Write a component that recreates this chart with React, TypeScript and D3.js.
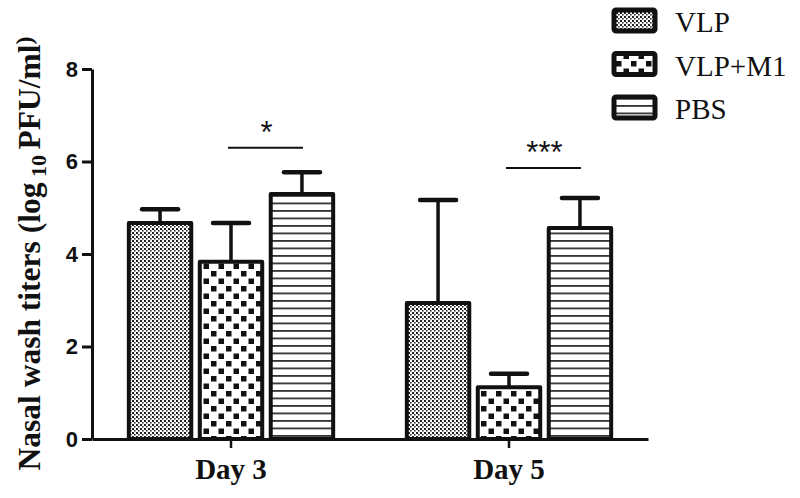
import React, { useRef, useEffect } from 'react'
import * as d3 from 'd3'

const categories = ['Day 3', 'Day 5']
const groups = ['VLP', 'VLP+M1', 'PBS']
const vlpMeans = [4.67, 2.94]
const vlpM1Means = [3.83, 1.12]
const pbsMeans = [5.3, 4.56]
const vlpErr = [0.3, 2.23]
const vlpM1Err = [0.84, 0.29]
const pbsErr = [0.47, 0.65]
const yTicks = [0, 2, 4, 6, 8]
const sigCategories = ['Day 3', 'Day 5']
const sigFrom = ['VLP+M1', 'VLP+M1']
const sigTo = ['PBS', 'PBS']
const sigLevels = [6.3, 5.86]
const sigLabels = ['*', '***']

const patternIds: Record<string, string> = { 'VLP': 'pat-vlp', 'VLP+M1': 'pat-vlpm1', 'PBS': 'pat-pbs' }

export default function App() {
  const svgRef = useRef<SVGSVGElement>(null)

  useEffect(() => {
    const width = 800
    const height = 498
    const margin = { top: 69, right: 152, bottom: 59, left: 92 }

    const svg = d3.select(svgRef.current)
    svg.selectAll('*').remove()
    svg.attr('viewBox', `0 0 ${width} ${height}`)

    // Patterns
    const defs = svg.append('defs')
    const p1 = defs.append('pattern').attr('id', 'pat-vlp')
      .attr('patternUnits', 'userSpaceOnUse').attr('width', 4).attr('height', 4)
    p1.append('rect').attr('width', 4).attr('height', 4).attr('fill', '#fff')
    p1.append('rect').attr('x', 0).attr('y', 0).attr('width', 2).attr('height', 2).attr('fill', '#222')
    p1.append('rect').attr('x', 2).attr('y', 2).attr('width', 1.6).attr('height', 1.6).attr('fill', '#333')

    const p2 = defs.append('pattern').attr('id', 'pat-vlpm1')
      .attr('patternUnits', 'userSpaceOnUse').attr('width', 15).attr('height', 15)
    p2.append('rect').attr('width', 15).attr('height', 15).attr('fill', '#fff')
    p2.append('rect').attr('x', 1).attr('y', 1).attr('width', 5.5).attr('height', 5.5).attr('fill', '#111')
    p2.append('rect').attr('x', 8.5).attr('y', 8.5).attr('width', 5.5).attr('height', 5.5).attr('fill', '#111')

    const p3 = defs.append('pattern').attr('id', 'pat-pbs')
      .attr('patternUnits', 'userSpaceOnUse').attr('width', 8).attr('height', 7.5)
    p3.append('rect').attr('width', 8).attr('height', 7.5).attr('fill', '#fff')
    p3.append('rect').attr('x', 0).attr('y', 0).attr('width', 8).attr('height', 1.8).attr('fill', '#333')

    const means: Record<string, number[]> = { 'VLP': vlpMeans, 'VLP+M1': vlpM1Means, 'PBS': pbsMeans }
    const errs: Record<string, number[]> = { 'VLP': vlpErr, 'VLP+M1': vlpM1Err, 'PBS': pbsErr }

    const x0 = d3.scaleBand<string>()
      .domain(categories)
      .range([margin.left, width - margin.right])
      .paddingInner(0.265)
      .paddingOuter(0.1325)

    const x1 = d3.scaleBand<string>()
      .domain(groups)
      .range([0, x0.bandwidth()])
      .paddingInner(0.12)

    const y = d3.scaleLinear()
      .domain([0, 8])
      .range([height - margin.bottom, margin.top])

    // Error bars (upper only)
    categories.forEach((c, ci) => {
      groups.forEach(g => {
        const cx = (x0(c) || 0) + (x1(g) || 0) + x1.bandwidth() / 2
        const top = means[g][ci] + errs[g][ci]
        svg.append('line')
          .attr('x1', cx).attr('x2', cx)
          .attr('y1', y(means[g][ci])).attr('y2', y(top))
          .attr('stroke', '#111').attr('stroke-width', 3.5)
        svg.append('line')
          .attr('x1', cx - 18).attr('x2', cx + 18)
          .attr('y1', y(top)).attr('y2', y(top))
          .attr('stroke', '#111').attr('stroke-width', 4.5)
          .attr('stroke-linecap', 'round')
      })
    })

    // Bars
    categories.forEach((c, ci) => {
      svg.append('g').selectAll('rect')
        .data(groups)
        .join('rect')
        .attr('x', g => (x0(c) || 0) + (x1(g) || 0))
        .attr('y', g => y(means[g][ci]))
        .attr('width', x1.bandwidth())
        .attr('height', g => y(0) - y(means[g][ci]))
        .attr('fill', g => `url(#${patternIds[g]})`)
        .attr('stroke', '#111')
        .attr('stroke-width', 4)
        .attr('stroke-linejoin', 'round')
    })

    // Axes
    const yAxis = svg.append('g')
      .attr('transform', `translate(${margin.left},0)`)
      .call(d3.axisLeft(y).tickValues(yTicks).tickSize(10).tickSizeOuter(0).tickPadding(4))
    yAxis.select('.domain').attr('stroke', '#111').attr('stroke-width', 3)
    yAxis.selectAll('.tick line').attr('stroke', '#111').attr('stroke-width', 3)
    yAxis.selectAll('.tick text')
      .attr('font-family', '"Liberation Sans", Arial, sans-serif')
      .attr('font-weight', 'bold')
      .attr('font-size', 22)
      .attr('fill', '#111')

    const xAxis = svg.append('g')
      .attr('transform', `translate(0,${y(0)})`)
      .call(d3.axisBottom(x0).tickSize(9).tickSizeOuter(0).tickPadding(10))
    xAxis.select('.domain').attr('stroke', '#111').attr('stroke-width', 3)
    xAxis.selectAll('.tick line').attr('stroke', '#111').attr('stroke-width', 2.5)
    xAxis.selectAll('.tick text')
      .attr('font-family', '"Liberation Serif", "Times New Roman", serif')
      .attr('font-weight', 'bold')
      .attr('font-size', 29)
      .attr('fill', '#111')

    // Y label
    const yl = svg.append('text')
      .attr('transform', `translate(40,${(35 + 472) / 2}) rotate(-90)`)
      .attr('text-anchor', 'middle')
      .attr('font-family', '"Liberation Serif", "Times New Roman", serif')
      .attr('font-weight', 'bold')
      .attr('font-size', 31.5)
      .attr('fill', '#111')
    yl.append('tspan').text('Nasal wash titers (log')
    yl.append('tspan').attr('font-size', 22).attr('dy', 6).text(' 10 ')
    yl.append('tspan').attr('dy', -6).text('PFU/ml')
    yl.append('tspan').attr('dy', -8).attr('font-size', 24).text(')')

    // Significance
    sigCategories.forEach((c, i) => {
      const xa = (x0(c) || 0) + (x1(sigFrom[i]) || 0) + x1.bandwidth() / 2
      const xb = (x0(c) || 0) + (x1(sigTo[i]) || 0) + x1.bandwidth() / 2
      svg.append('line')
        .attr('x1', xa - 3).attr('x2', xb + 1)
        .attr('y1', y(sigLevels[i])).attr('y2', y(sigLevels[i]))
        .attr('stroke', '#111').attr('stroke-width', 2)
      svg.append('text')
        .attr('x', (xa + xb) / 2)
        .attr('y', y(sigLevels[i]) - 5)
        .attr('text-anchor', 'middle')
        .attr('font-family', '"Liberation Sans", Arial, sans-serif')
        .attr('font-size', 31)
        .attr('fill', '#111')
        .text(sigLabels[i])
    })

    // Legend
    groups.forEach((g, i) => {
      const ly = 10 + i * 43.5
      svg.append('rect')
        .attr('x', 614).attr('y', ly)
        .attr('width', 41).attr('height', 21)
        .attr('rx', 2)
        .attr('fill', `url(#${patternIds[g]})`)
        .attr('stroke', '#111')
        .attr('stroke-width', 5)
      svg.append('text')
        .attr('x', 675)
        .attr('y', ly + 22)
        .attr('font-family', '"Liberation Serif", "Times New Roman", serif')
        .attr('font-size', 29)
        .attr('fill', '#111')
        .text(g)
    })
  }, [])

  return (
    <div style={{ position: 'absolute', left: 0, top: 0, width: 800, height: 498, background: '#fff' }}>
      <svg ref={svgRef} width={800} height={498} role="img" aria-label="Bar chart of nasal wash titers on day 3 and day 5" />
    </div>
  )
}
